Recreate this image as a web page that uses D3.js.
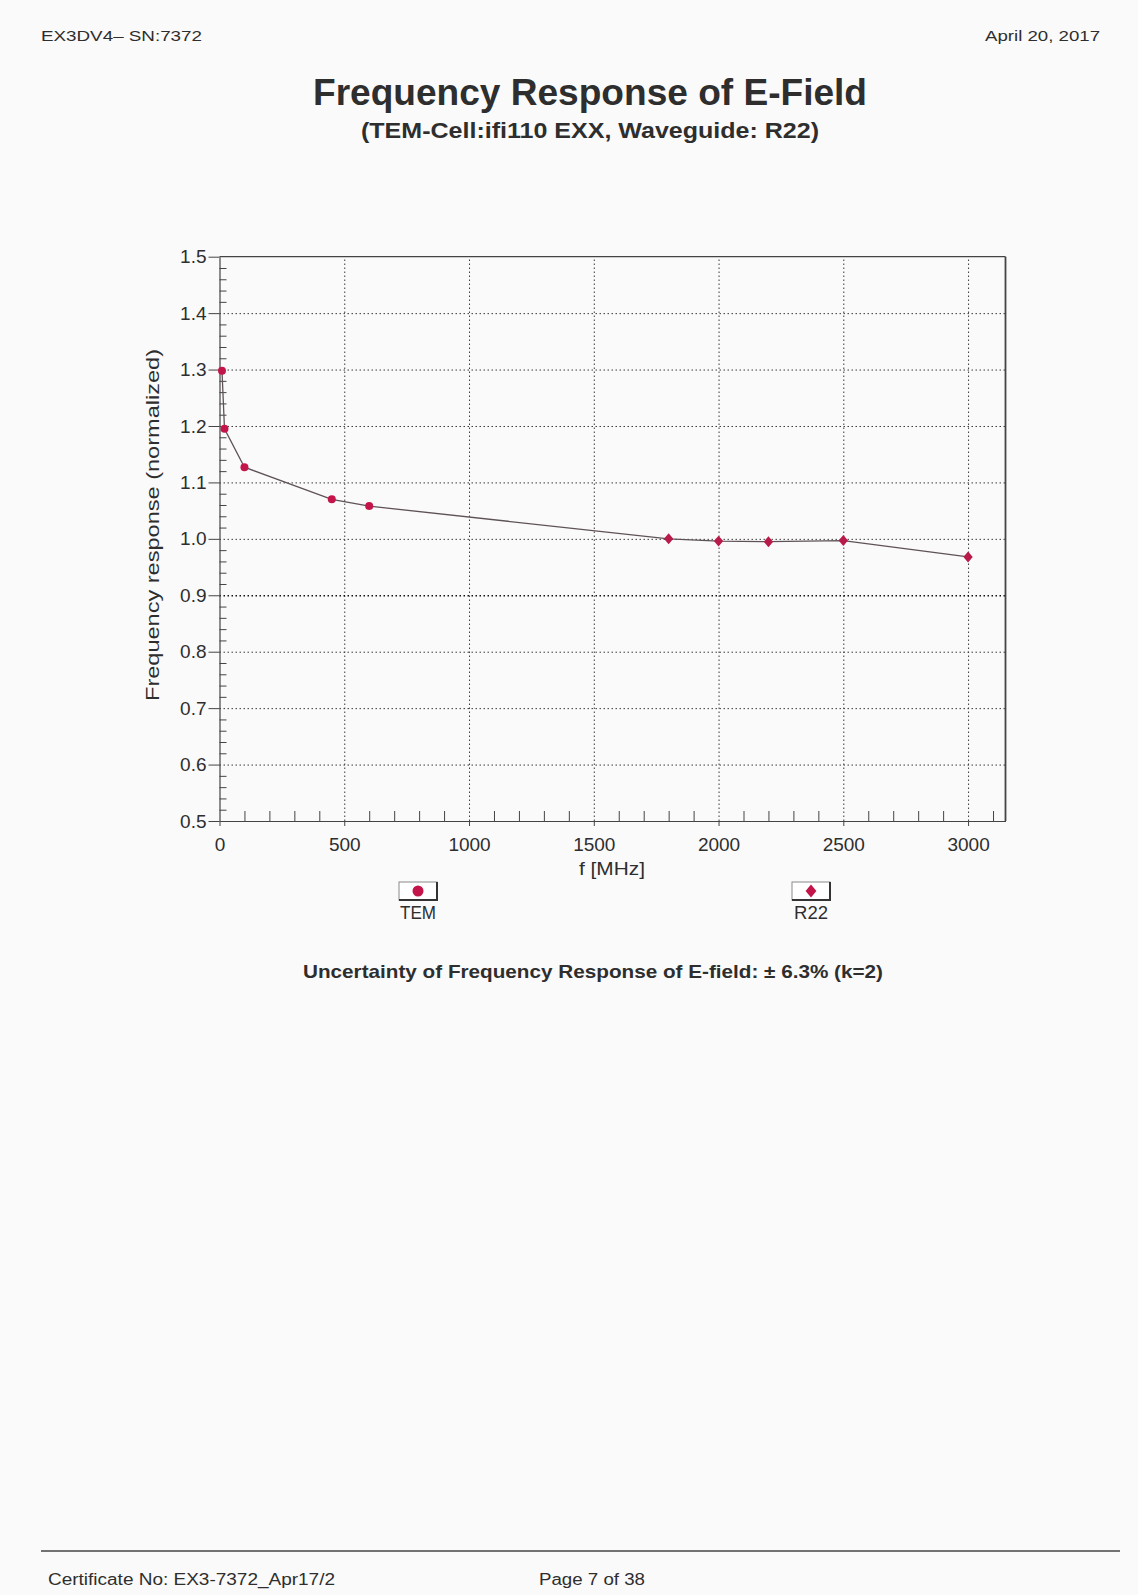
<!DOCTYPE html>
<html>
<head>
<meta charset="utf-8">
<script src="https://cdn.jsdelivr.net/npm/d3@7"></script>
<style>
  html, body { margin: 0; padding: 0; background: #fbfafa; }
  svg { display: block; }
  text { font-family: "Liberation Sans", Arial, sans-serif; fill: #2e2e2e; }
</style>
</head>
<body>
<svg id="chart" width="1138" height="1595"></svg>
<script>
// ---- data ----
const temFreq = [10, 20, 100, 450, 600];
const temValue = [1.298, 1.195, 1.127, 1.070, 1.058];
const r22Freq = [1800, 2000, 2200, 2500, 3000];
const r22Value = [1.000, 0.996, 0.995, 0.997, 0.968];
const xTicks = [0, 500, 1000, 1500, 2000, 2500, 3000];
const yTicks = [0.5, 0.6, 0.7, 0.8, 0.9, 1.0, 1.1, 1.2, 1.3, 1.4, 1.5];
const seriesNames = ["TEM", "R22"];

const svg = d3.select("#chart");
svg.append("rect").attr("width", 1138).attr("height", 1595).attr("fill", "#fbfafa");

const L = 219.5, R = 1005.5, T = 256.7, B = 821;
const x = d3.scaleLinear().domain([0, 3150]).range([L, R]);
const y = d3.scaleLinear().domain([0.5, 1.5]).range([B, T]);

// header
svg.append("text").attr("x", 41).attr("y", 41).attr("font-size", 15.5)
  .attr("textLength", 161).attr("lengthAdjust", "spacingAndGlyphs").text("EX3DV4– SN:7372");
svg.append("text").attr("x", 1100).attr("y", 41).attr("font-size", 15.5).attr("text-anchor", "end")
  .attr("textLength", 115).attr("lengthAdjust", "spacingAndGlyphs").text("April 20, 2017");

// titles
svg.append("text").attr("x", 313).attr("y", 105).attr("font-size", 37).attr("font-weight", "bold")
  .attr("textLength", 554).attr("lengthAdjust", "spacingAndGlyphs").text("Frequency Response of E-Field");
svg.append("text").attr("x", 361).attr("y", 138).attr("font-size", 22).attr("font-weight", "bold")
  .attr("textLength", 458).attr("lengthAdjust", "spacingAndGlyphs").text("(TEM-Cell:ifi110 EXX, Waveguide: R22)");

// grid
const gridStyle = g => g.selectAll("line").attr("stroke", "#3a3a3a").attr("stroke-width", 1).attr("stroke-dasharray", "1.5,2.5");
svg.append("g").attr("transform", `translate(0,${B})`)
  .call(d3.axisBottom(x).tickValues(xTicks.filter(d => d > 0)).tickSize(-(B - T)).tickFormat(""))
  .call(g => g.select(".domain").remove()).call(gridStyle);
svg.append("g").attr("transform", `translate(${L},0)`)
  .call(d3.axisLeft(y).tickValues(yTicks.filter(d => d > 0.5 && d < 1.5)).tickSize(-(R - L)).tickFormat(""))
  .call(g => g.select(".domain").remove()).call(gridStyle)
  .call(g => g.selectAll(".tick").filter(d => Math.abs(d - 0.9) < 1e-9).select("line").attr("stroke", "#111").attr("stroke-width", 1.4));

// frame top & right
svg.append("line").attr("x1", L).attr("x2", R).attr("y1", T).attr("y2", T).attr("stroke", "#444").attr("stroke-width", 1.2);
svg.append("line").attr("x1", R).attr("x2", R).attr("y1", T).attr("y2", B).attr("stroke", "#444").attr("stroke-width", 1.8);

// minor ticks
const yMinor = d3.range(0, 51).map(i => 0.5 + i * 0.02).filter(v => Math.abs(v * 10 - Math.round(v * 10)) > 1e-6);
svg.append("g").attr("transform", `translate(${L},0)`)
  .call(d3.axisRight(y).tickValues(yMinor).tickSize(7).tickFormat("").tickSizeOuter(0))
  .call(g => g.select(".domain").remove())
  .call(g => g.selectAll("line").attr("stroke", "#444"));
const xMinor = d3.range(100, 3150, 100).filter(v => v % 500 !== 0);
svg.append("g").attr("transform", `translate(0,${B})`)
  .call(d3.axisTop(x).tickValues(xMinor).tickSize(10).tickFormat("").tickSizeOuter(0))
  .call(g => g.select(".domain").remove())
  .call(g => g.selectAll("line").attr("stroke", "#444"));

// main axes
svg.append("g").attr("transform", `translate(${L},0)`)
  .call(d3.axisLeft(y).tickValues(yTicks).tickSize(11).tickPadding(2).tickSizeOuter(0).tickFormat(d3.format(".1f")))
  .call(g => g.select(".domain").attr("stroke", "#444").attr("stroke-width", 1.2))
  .call(g => g.selectAll("line").attr("stroke", "#444"))
  .call(g => g.selectAll("text").attr("font-size", 19).attr("fill", "#333").attr("font-family", "Liberation Sans, Arial, sans-serif"));
svg.append("g").attr("transform", `translate(0,${B})`)
  .call(d3.axisBottom(x).tickValues(xTicks).tickSize(5).tickPadding(12).tickSizeOuter(0).tickFormat(d3.format("d")))
  .call(g => g.select(".domain").attr("stroke", "#444").attr("stroke-width", 1.2))
  .call(g => g.selectAll("line").attr("stroke", "#444"))
  .call(g => g.selectAll("text").attr("font-size", 19).attr("fill", "#333").attr("font-family", "Liberation Sans, Arial, sans-serif"));

// axis titles
svg.append("text").attr("transform", "translate(159,525) rotate(-90)").attr("text-anchor", "middle")
  .attr("font-size", 19).attr("textLength", 352).attr("lengthAdjust", "spacingAndGlyphs")
  .text("Frequency response (normalized)");
svg.append("text").attr("x", 612).attr("y", 875).attr("text-anchor", "middle").attr("font-size", 19)
  .attr("textLength", 66).attr("lengthAdjust", "spacingAndGlyphs").text("f [MHz]");

// line through all points
const allPts = temFreq.map((f, i) => [f, temValue[i]]).concat(r22Freq.map((f, i) => [f, r22Value[i]]));
svg.append("path").datum(allPts)
  .attr("d", d3.line().x(d => x(d[0])).y(d => y(d[1])))
  .attr("fill", "none").attr("stroke", "#5e5257").attr("stroke-width", 1.3);

const markColor = "#c4154a";
svg.append("g").selectAll("circle").data(temFreq.map((f, i) => [f, temValue[i]])).join("circle")
  .attr("cx", d => x(d[0])).attr("cy", d => y(d[1])).attr("r", 4).attr("fill", markColor);
const diamond = d3.symbol().type(d3.symbolDiamond).size(48);
svg.append("g").selectAll("path").data(r22Freq.map((f, i) => [f, r22Value[i]])).join("path")
  .attr("d", diamond).attr("transform", d => `translate(${x(d[0])},${y(d[1])}) scale(1.25,0.85)`)
  .attr("fill", "#b81a4a");

// legend
const legend = [
  { name: seriesNames[0], x0: 399, type: "circle" },
  { name: seriesNames[1], x0: 792, type: "diamond" }
];
legend.forEach(l => {
  const g = svg.append("g");
  g.append("rect").attr("x", l.x0).attr("y", 882).attr("width", 38).attr("height", 18)
    .attr("fill", "#fff").attr("stroke", "#8a8a8a").attr("stroke-width", 1);
  g.append("path").attr("d", `M${l.x0 + 38},882 V${900} H${l.x0}`).attr("fill", "none").attr("stroke", "#333").attr("stroke-width", 2);
  if (l.type === "circle") {
    g.append("circle").attr("cx", l.x0 + 19).attr("cy", 891).attr("r", 5.5).attr("fill", markColor);
  } else {
    g.append("path").attr("d", d3.symbol().type(d3.symbolDiamond).size(60))
      .attr("transform", `translate(${l.x0 + 19},891) scale(1.3,0.9)`).attr("fill", markColor);
  }
  g.append("text").attr("x", l.x0 + 19).attr("y", 919).attr("text-anchor", "middle").attr("font-size", 18)
    .attr("textLength", l.type === "circle" ? 36 : 34).attr("lengthAdjust", "spacingAndGlyphs").text(l.name);
});

// uncertainty
svg.append("text").attr("x", 303).attr("y", 978).attr("font-size", 19).attr("font-weight", "bold")
  .attr("textLength", 580).attr("lengthAdjust", "spacingAndGlyphs")
  .text("Uncertainty of Frequency Response of E-field: ± 6.3% (k=2)");

// footer
svg.append("line").attr("x1", 41).attr("x2", 1120).attr("y1", 1551).attr("y2", 1551).attr("stroke", "#444").attr("stroke-width", 1.5);
svg.append("text").attr("x", 48).attr("y", 1585).attr("font-size", 16)
  .attr("textLength", 287).attr("lengthAdjust", "spacingAndGlyphs").text("Certificate No: EX3-7372_Apr17/2");
svg.append("text").attr("x", 539).attr("y", 1585).attr("font-size", 16)
  .attr("textLength", 106).attr("lengthAdjust", "spacingAndGlyphs").text("Page 7 of 38");
</script>
</body>
</html>
